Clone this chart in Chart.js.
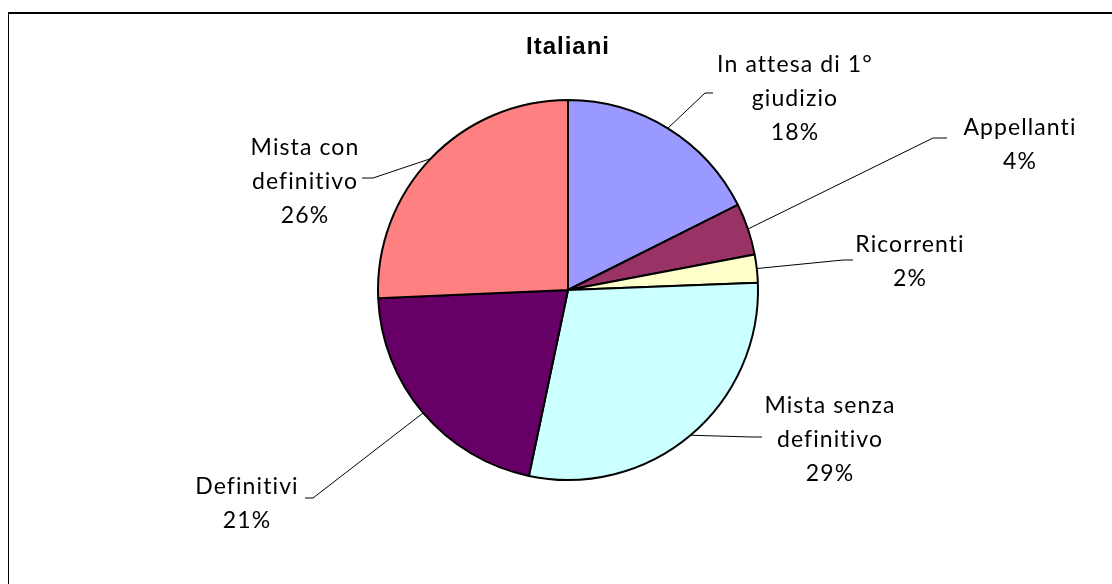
<!DOCTYPE html>
<html>
<head>
<meta charset="utf-8">
<script src="https://cdn.jsdelivr.net/npm/chart.js@4.4.0/dist/chart.umd.min.js"></script>
<style>
html, body { margin:0; padding:0; background:#fff; overflow:hidden; }
#wrap { position:relative; width:1112px; height:584px; }
#box { position:absolute; left:8px; top:12px; width:1200px; height:700px; border-left:1px solid #000; border-top:2px solid #000; }
canvas { position:absolute; left:0; top:0; }
</style>
</head>
<body>
<div id="wrap"><div id="box"></div><canvas id="torta" width="1112" height="584"></canvas></div>
<script>
// dati del grafico
var categorie = [['In attesa di 1°', 'giudizio'], ['Appellanti'], ['Ricorrenti'], ['Mista senza', 'definitivo'], ['Definitivi'], ['Mista con', 'definitivo']];
var valori = [17.6, 4.4, 2.4, 28.9, 21.0, 25.7];
var colori = ['#9999FF', '#993366', '#FFFFCC', '#CCFFFF', '#660066', '#FF8080'];
var titolo = 'Italiani';

// dove stanno le etichette: centro x, y prima riga, gomito x, gomito y, fine linea x
var posEtichette = [
    [795, 65, 705, 93, 713],
    [1020, 128, 933, 138, 947],
    [910, 245, 843, 260, 853],
    [830, 406, 752, 437, 762],
    [247, 487, 313, 498, 305],
    [305, 148, 373, 178, 362]
];

var etichettePlugin = {
    id: 'etichette',
    afterDatasetsDraw: function(chart) {
        var ctx = chart.ctx;
        var meta = chart.getDatasetMeta(0);
        var totale = valori.reduce(function(a, b) { return a + b; }, 0);
        ctx.save();
        // titolo
        ctx.fillStyle = '#000';
        ctx.font = 'bold 24px "Liberation Sans", Arial, sans-serif';
        ctx.letterSpacing = '1px';
        ctx.textAlign = 'center';
        ctx.textBaseline = 'middle';
        ctx.fillText(titolo, 568, 47);

        meta.data.forEach(function(arc, i) {
            var p = arc.getProps(['x', 'y', 'startAngle', 'endAngle', 'outerRadius'], true);
            var mid = (p.startAngle + p.endAngle) / 2;
            var px = p.x + Math.cos(mid) * p.outerRadius;
            var py = p.y + Math.sin(mid) * p.outerRadius;
            var pos = posEtichette[i];
            // linea di richiamo
            ctx.strokeStyle = '#000';
            ctx.lineWidth = 1;
            ctx.beginPath();
            ctx.moveTo(px, py);
            ctx.lineTo(pos[2], pos[3]);
            ctx.lineTo(pos[4], pos[3]);
            ctx.stroke();
            // testo
            var righe = categorie[i].concat([Math.round(valori[i] / totale * 100) + '%']);
            ctx.font = '23px Lato, "Open Sans", sans-serif';
            ctx.letterSpacing = '1.1px';
            ctx.fillStyle = '#000';
            righe.forEach(function(r, k) {
                ctx.fillText(r, pos[0], pos[1] + k * 34);
            });
        });
        ctx.restore();
    }
};

var ctx = document.getElementById('torta').getContext('2d');
var myChart = new Chart(ctx, {
    type: 'pie',
    data: {
        labels: categorie.map(function(c) { return c.join(' '); }),
        datasets: [{
            data: valori,
            backgroundColor: colori,
            borderColor: '#000',
            borderWidth: 2
        }]
    },
    options: {
        responsive: false,
        devicePixelRatio: 1,
        animation: false,
        radius: 190,
        layout: {
            padding: { left: 34, right: 10, top: 10, bottom: 14 }
        },
        plugins: {
            legend: { display: false },
            tooltip: { enabled: false },
            title: { display: false }
        }
    },
    plugins: [etichettePlugin]
});
</script>
</body>
</html>
